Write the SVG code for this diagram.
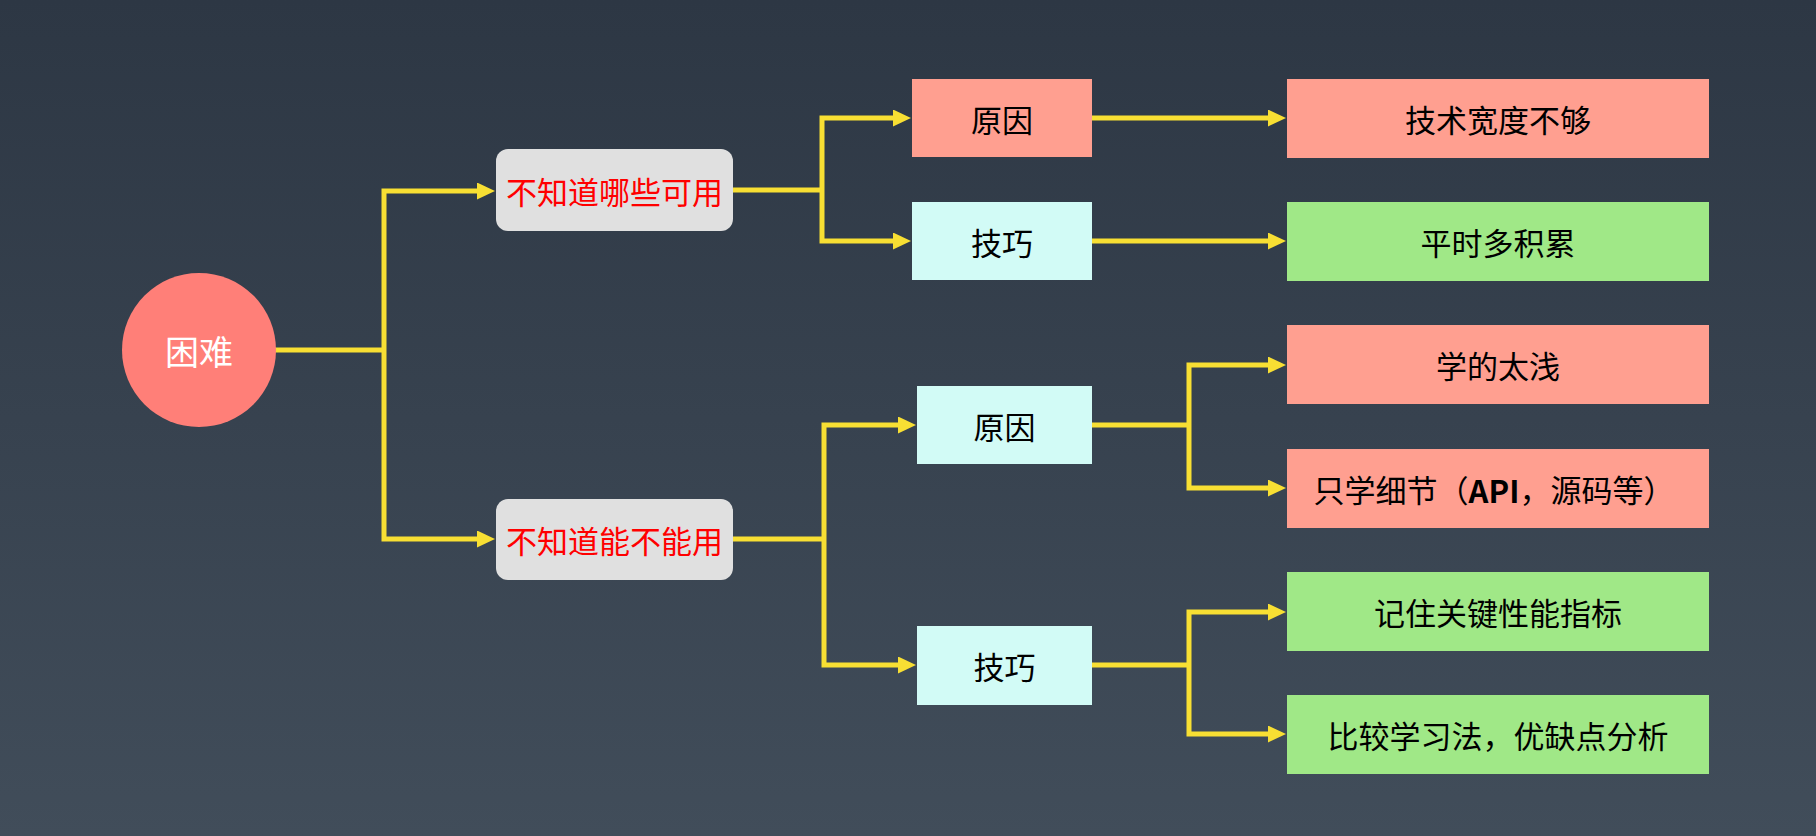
<svg xmlns="http://www.w3.org/2000/svg" width="1816" height="836" viewBox="0 0 1816 836">
<defs>
<linearGradient id="bg" x1="0" y1="0" x2="0" y2="1">
<stop offset="0" stop-color="#2d3744"/>
<stop offset="1" stop-color="#414d5a"/>
</linearGradient>
<marker id="arr" viewBox="0 0 18 17" refX="1" refY="8.5" markerWidth="18" markerHeight="17" markerUnits="userSpaceOnUse" orient="auto">
<path d="M0,0 L18,8.5 L0,17 z" fill="#f8df33"/>
</marker>
<style>
.ln{fill:none;stroke:#f8df33;stroke-width:5;stroke-linejoin:miter}
.t{font-family:"Noto Sans CJK SC","Noto Sans",sans-serif;font-size:31px;font-weight:normal;text-anchor:middle;dominant-baseline:central;fill:#000}
.red{fill:#ff0000}
.sal{fill:#ff9f90}
.cy{fill:#d2fbf6}
.gr{fill:#a0e887}
.gy{fill:#e0e0e0}
</style>
</defs>
<rect x="0" y="0" width="1816" height="836" fill="url(#bg)"/>
<g id="connectors">
<path class="ln" d="M275,350 H384"/>
<path class="ln" d="M384,350 V191 H478" marker-end="url(#arr)"/>
<path class="ln" d="M384,350 V539 H478" marker-end="url(#arr)"/>
<path class="ln" d="M733,190 H822"/>
<path class="ln" d="M822,190 V118 H894" marker-end="url(#arr)"/>
<path class="ln" d="M822,190 V241 H894" marker-end="url(#arr)"/>
<path class="ln" d="M1092,118 H1269" marker-end="url(#arr)"/>
<path class="ln" d="M1092,241 H1269" marker-end="url(#arr)"/>
<path class="ln" d="M733,539 H824"/>
<path class="ln" d="M824,539 V425 H899" marker-end="url(#arr)"/>
<path class="ln" d="M824,539 V665 H899" marker-end="url(#arr)"/>
<path class="ln" d="M1092,425 H1189"/>
<path class="ln" d="M1189,425 V365 H1269" marker-end="url(#arr)"/>
<path class="ln" d="M1189,425 V488 H1269" marker-end="url(#arr)"/>
<path class="ln" d="M1092,665 H1189"/>
<path class="ln" d="M1189,665 V612 H1269" marker-end="url(#arr)"/>
<path class="ln" d="M1189,665 V734 H1269" marker-end="url(#arr)"/>
</g>
<g id="n-kunnan">
<circle cx="199" cy="350" r="77" fill="#ff7f78"/>
<text class="t" x="199" y="350" style="fill:#fff;font-size:34px">困难</text>
</g>
<g id="n-which">
<rect class="gy" x="496" y="149" width="237" height="82" rx="12"/>
<text class="t red" x="614.5" y="190">不知道哪些可用</text>
</g>
<g id="n-can">
<rect class="gy" x="496" y="499" width="237" height="81" rx="12"/>
<text class="t red" x="614.5" y="539.5">不知道能不能用</text>
</g>
<g id="n-reason1">
<rect class="sal" x="912" y="79" width="180" height="78"/>
<text class="t" x="1002" y="118">原因</text>
</g>
<g id="n-skill1">
<rect class="cy" x="912" y="202" width="180" height="78"/>
<text class="t" x="1002" y="241">技巧</text>
</g>
<g id="n-breadth">
<rect class="sal" x="1287" y="79" width="422" height="79"/>
<text class="t" x="1498" y="118.5">技术宽度不够</text>
</g>
<g id="n-accumulate">
<rect class="gr" x="1287" y="202" width="422" height="79"/>
<text class="t" x="1498" y="241.5">平时多积累</text>
</g>
<g id="n-reason2">
<rect class="cy" x="917" y="386" width="175" height="78"/>
<text class="t" x="1004.5" y="425">原因</text>
</g>
<g id="n-skill2">
<rect class="cy" x="917" y="626" width="175" height="79"/>
<text class="t" x="1004.5" y="665.5">技巧</text>
</g>
<g id="n-shallow">
<rect class="sal" x="1287" y="325" width="422" height="79"/>
<text class="t" x="1498" y="364.5">学的太浅</text>
</g>
<g id="n-details">
<rect class="sal" x="1287" y="449" width="422" height="79"/>
<text class="t" x="1494" y="488.5">只学细节（<tspan font-weight="bold">API</tspan>，源码等）</text>
</g>
<g id="n-metrics">
<rect class="gr" x="1287" y="572" width="422" height="79"/>
<text class="t" x="1498" y="611.5">记住关键性能指标</text>
</g>
<g id="n-compare">
<rect class="gr" x="1287" y="695" width="422" height="79"/>
<text class="t" x="1498" y="734.5">比较学习法，优缺点分析</text>
</g>
</svg>
